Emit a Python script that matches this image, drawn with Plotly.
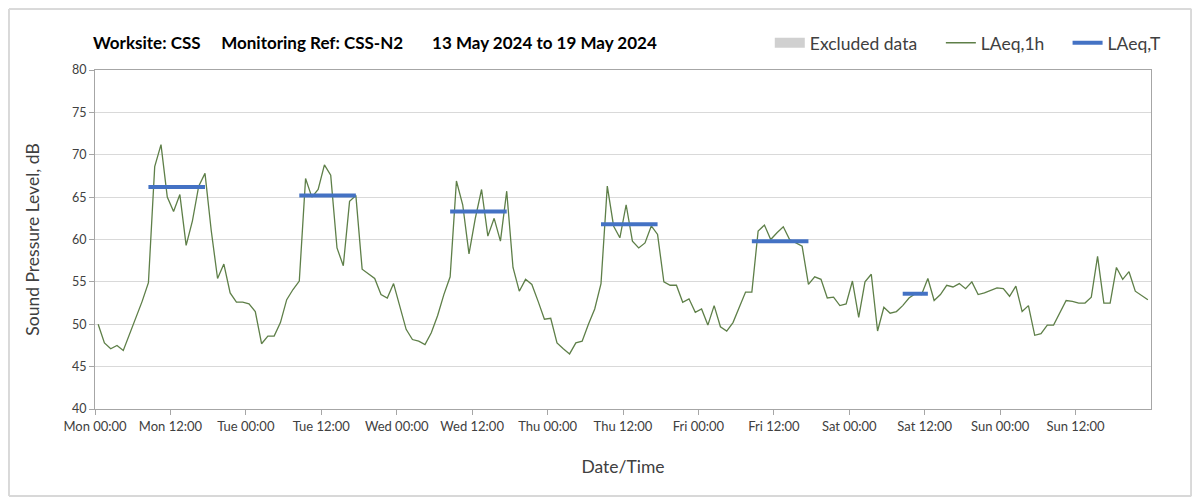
import plotly.graph_objects as go

# hourly LAeq,1h, Mon 00:00 .. Sun 23:00 (168 values)
laeq_1h = [
    50.0, 47.8, 47.1, 47.5, 46.9, 48.8, 50.6, 52.7, 54.9, 68.6, 71.2, 65.0,
    63.3, 65.3, 59.3, 62.2, 66.3, 67.8, 61.0, 55.4, 57.1, 53.7, 52.6, 52.6,
    52.4, 51.5, 47.7, 48.6, 48.6, 50.2, 52.9, 54.1, 55.1, 67.2, 65.0, 65.9,
    68.8, 67.6, 59.0, 56.9, 64.5, 65.2, 56.5, 55.9, 55.4, 53.5, 53.1, 54.8,
    52.0, 49.4, 48.2, 48.0, 47.6, 49.0, 51.0, 53.5, 55.6, 66.9, 64.1, 58.3,
    62.5, 65.9, 60.4, 62.5, 59.8, 65.7, 56.7, 53.9, 55.3, 54.7, 52.7, 50.6,
    50.7, 47.8, 47.1, 46.5, 47.8, 48.0, 50.0, 51.8, 54.8, 66.3, 61.6, 60.2,
    64.1, 59.8, 59.0, 59.6, 61.6, 60.6, 55.0, 54.6, 54.6, 52.6, 53.0, 51.4,
    51.8, 49.9, 52.2, 49.7, 49.2, 50.2, 52.0, 53.8, 53.8, 61.0, 61.7, 60.0,
    60.8, 61.5, 60.0, 59.6, 59.2, 54.7, 55.6, 55.3, 53.1, 53.2, 52.2, 52.4,
    55.1, 50.8, 55.0, 55.9, 49.2, 52.0, 51.3, 51.5, 52.2, 53.1, 53.6, 53.5,
    55.4, 52.8, 53.5, 54.6, 54.4, 54.8, 54.2, 55.0, 53.5, 53.7, 54.0, 54.3,
    54.2, 53.3, 54.5, 51.5, 52.2, 48.7, 48.9, 49.9, 49.9, 51.4, 52.8, 52.7,
    52.5, 52.5, 53.2, 58.0, 52.5, 52.5, 56.7, 55.3, 56.2, 53.9, 53.4, 52.9,
]

# LAeq,T daytime periods: day index, first hour, last hour, level
period_day = [0, 1, 2, 3, 4, 5]
period_first = [8, 8, 8, 8, 8, 8]
period_last = [17, 17, 17, 17, 17, 12]
laeq_t = [66.2, 65.2, 63.3, 61.8, 59.8, 53.6]

tick_labels = ["Mon 00:00", "Mon 12:00", "Tue 00:00", "Tue 12:00", "Wed 00:00",
               "Wed 12:00", "Thu 00:00", "Thu 12:00", "Fri 00:00", "Fri 12:00",
               "Sat 00:00", "Sat 12:00", "Sun 00:00", "Sun 12:00"]

hours = [i + 0.5 for i in range(len(laeq_1h))]

tx, ty = [], []
for d, a, b, v in zip(period_day, period_first, period_last, laeq_t):
    tx += [d * 24 + a + 0.5, d * 24 + b + 0.5, None]
    ty += [v, v, None]

FONT = "Lato"
GRID = "#d9d9d9"
TXT = "#404040"
W, H = 1195, 494  # page body adds an 8px margin

fig = go.Figure()
# nothing was excluded this week, entry is legend only
fig.add_trace(go.Scatter(x=[None], y=[None], mode="lines", name="Excluded data",
                         line=dict(color="#d0d0d0", width=12), legend="legend"))
fig.add_trace(go.Scatter(x=hours, y=laeq_1h, mode="lines", name="LAeq,1h",
                         line=dict(color="#5e7f48", width=1.3), legend="legend2"))
fig.add_trace(go.Scatter(x=tx, y=ty, mode="lines", name="LAeq,T",
                         line=dict(color="#4472c4", width=4), legend="legend3"))

# day boundaries only get vertical gridlines
for d in range(1, 7):
    fig.add_vline(x=d * 24, line=dict(color=GRID, width=1), layer="below")

nb = "\u00a0"
title = ("Worksite: CSS" + nb * 5 + "Monitoring Ref: CSS-N2" + nb * 7
         + "13 May 2024 to 19 May 2024")


def leg(x):
    return dict(orientation="h", x=x, xanchor="left", y=1.08, yanchor="middle",
                font=dict(family=FONT, size=17.5, color=TXT),
                bgcolor="rgba(0,0,0,0)")


fig.update_layout(
    width=W, height=H,
    margin=dict(l=87, r=52, t=62, b=93),
    paper_bgcolor="white", plot_bgcolor="white",
    font=dict(family=FONT, color=TXT),
    title=dict(text=title, x=85 / W, xref="container", xanchor="left",
               y=1 - 35 / H, yanchor="middle",
               font=dict(family=FONT, size=17, color="black", weight="bold")),
    legend=leg(0.639), legend2=leg(0.801), legend3=leg(0.921),
    showlegend=True,
    shapes=[dict(type="rect", xref="paper", yref="paper",
                 x0=-0.0814, x1=1.038, y0=-0.2566, y1=1.18,
                 line=dict(color="#d9d9d9", width=1), layer="below")],
)

fig.update_xaxes(
    range=[0, 168], tickvals=[12 * k for k in range(len(tick_labels))],
    ticktext=tick_labels, showgrid=False, zeroline=False,
    showline=True, linecolor="#a6a6a6", mirror=True,
    ticks="outside", ticklen=5, tickcolor="#a6a6a6",
    tickfont=dict(size=13, color=TXT),
    title=dict(text="Date/Time", font=dict(size=17.5, color=TXT), standoff=28),
)
fig.update_yaxes(
    range=[40, 80], dtick=5, showgrid=True, gridcolor=GRID, zeroline=False,
    showline=True, linecolor="#a6a6a6", mirror=True,
    ticks="outside", ticklen=5, tickcolor="#a6a6a6",
    tickfont=dict(size=12.5, color=TXT),
    title=dict(text="Sound Pressure Level, dB", font=dict(size=17.5, color=TXT),
               standoff=27),
)

fig.write_html("out.html")
